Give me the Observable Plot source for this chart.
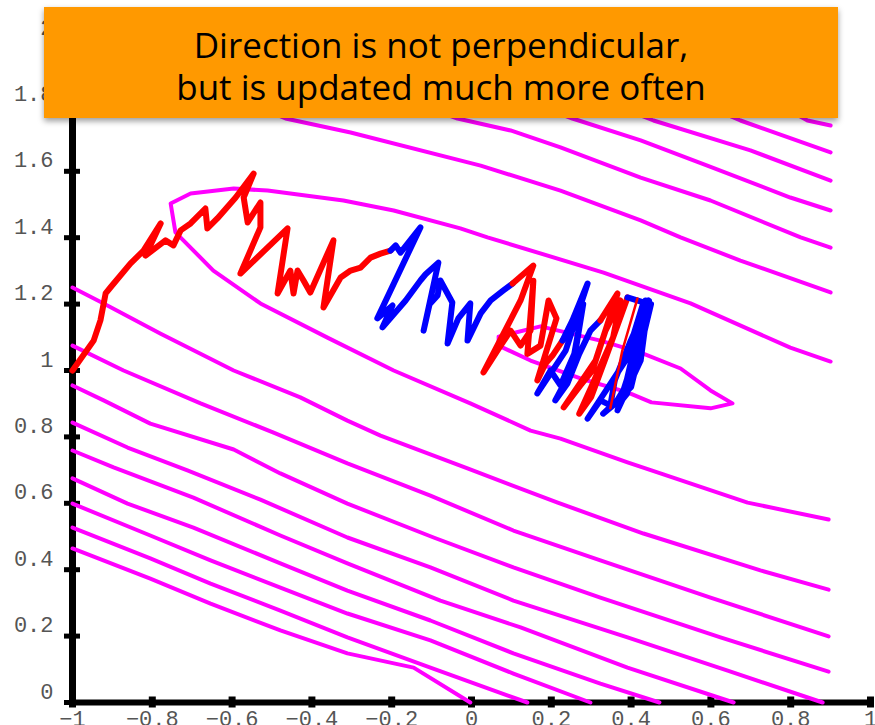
<!DOCTYPE html>
<html><head><meta charset="utf-8">
<script src="https://cdn.jsdelivr.net/npm/d3@7"></script>
<script src="https://cdn.jsdelivr.net/npm/@observablehq/plot@0.6"></script>
<style>
body{margin:0;background:#fff;}
#wrap{position:relative;width:875px;height:725px;overflow:hidden;background:#fff;}
#banner{position:absolute;left:44px;top:7px;width:794px;height:111px;background:#FF9900;box-shadow:0 3px 6px rgba(0,0,0,0.4);font-family:"Open Sans",sans-serif;font-size:35px;color:#000;text-align:center;line-height:42px;box-sizing:border-box;padding-top:17px;white-space:nowrap;}
</style></head>
<body>
<div id="wrap"></div>
<script>
// tick values
const xTicks = [-1, -0.8, -0.6, -0.4, -0.2, 0, 0.2, 0.4, 0.6, 0.8, 1];
const yTicks = [0, 0.2, 0.4, 0.6, 0.8, 1, 1.2, 1.4, 1.6, 1.8, 2];
const titleLines = ["Direction is not perpendicular,", "but is updated much more often"];

// contour lines (magenta), [x, y]
const contourU1 = [[-0.805,1.934],[-0.466,1.759],[-0.303,1.717],[0.023,1.617],[0.223,1.542],[0.424,1.452],[0.524,1.401],[0.674,1.331],[0.9,1.235]];
const contourU2 = [[-0.429,1.934],[-0.035,1.759],[0.098,1.723],[0.223,1.672],[0.424,1.581],[0.599,1.512],[0.825,1.401],[0.9,1.37]];
const contourU3 = [[-0.128,1.934],[0.253,1.759],[0.424,1.693],[0.591,1.617],[0.799,1.521],[0.9,1.482]];
const contourU4 = [[0.073,1.934],[0.456,1.753],[0.699,1.663],[0.9,1.572]];
const contourU5 = [[0.323,1.934],[0.674,1.753],[0.9,1.657]];
const contourU6 = [[0.574,1.934],[0.842,1.753],[0.9,1.738]];
const contourOuter = [[0.9,1.027],[0.799,1.069],[0.549,1.202],[0.331,1.295],[0.04,1.401],[-0.028,1.428],[-0.195,1.482],[-0.321,1.512],[-0.511,1.542],[-0.596,1.548],[-0.704,1.533],[-0.754,1.503],[-0.742,1.416],[-0.647,1.301],[-0.529,1.202],[-0.361,1.099],[-0.195,1.0],[-0.003,0.901],[0.148,0.819],[0.223,0.795],[0.391,0.723],[0.451,0.699],[0.692,0.602],[0.895,0.551]];
const contourInner = [[0.068,1.102],[0.173,1.133],[0.323,1.09],[0.424,1.054],[0.524,1.006],[0.599,0.94],[0.654,0.901],[0.599,0.886],[0.451,0.904],[0.391,0.934],[0.273,0.976],[0.148,1.03],[0.068,1.075],[0.068,1.102]];
const contourA = [[-1.0,1.25],[-0.922,1.202],[-0.779,1.111],[-0.596,1.0],[-0.429,0.919],[-0.311,0.849],[-0.228,0.804],[-0.01,0.705],[0.216,0.602],[0.431,0.509],[0.724,0.398],[0.895,0.34]];
const contourB = [[-1.0,1.075],[-0.872,1.0],[-0.679,0.901],[-0.496,0.813],[-0.311,0.72],[-0.103,0.623],[0.105,0.518],[0.323,0.428],[0.599,0.316],[0.895,0.199]];
const contourC = [[-1.0,0.955],[-0.922,0.91],[-0.805,0.84],[-0.596,0.762],[-0.479,0.69],[-0.311,0.599],[-0.095,0.497],[0.105,0.407],[0.323,0.316],[0.624,0.196],[0.895,0.093]];
const contourD = [[-1.0,0.843],[-0.862,0.768],[-0.712,0.699],[-0.529,0.611],[-0.311,0.497],[-0.103,0.407],[0.105,0.307],[0.391,0.196],[0.642,0.096],[0.88,0]];
const contourE = [[-1.0,0.759],[-0.897,0.708],[-0.697,0.617],[-0.479,0.503],[-0.311,0.419],[-0.078,0.307],[0.123,0.226],[0.391,0.105],[0.657,0]];
const contourF = [[-1.0,0.675],[-0.862,0.599],[-0.697,0.527],[-0.479,0.419],[-0.311,0.337],[-0.103,0.247],[0.105,0.148],[0.323,0.057],[0.471,0]];
const contourG = [[-1.0,0.599],[-0.805,0.503],[-0.654,0.428],[-0.479,0.346],[-0.311,0.268],[-0.103,0.187],[0.105,0.087],[0.298,0]];
const contourH = [[-1.0,0.527],[-0.805,0.434],[-0.654,0.358],[-0.479,0.277],[-0.311,0.196],[-0.103,0.105],[0.14,0]];
const contourI = [[-1.0,0.464],[-0.805,0.373],[-0.654,0.298],[-0.479,0.217],[-0.311,0.148],[-0.145,0.105],[-0.003,0]];

// optimisation trajectories
const red1 = [[-1.0,1.0],[-0.947,1.09],[-0.93,1.151],[-0.917,1.232],[-0.905,1.25],[-0.855,1.322],[-0.822,1.361],[-0.779,1.443],[-0.817,1.346],[-0.767,1.392],[-0.747,1.377],[-0.729,1.422],[-0.704,1.443],[-0.667,1.488],[-0.662,1.428],[-0.637,1.458],[-0.591,1.521],[-0.546,1.593],[-0.571,1.521],[-0.561,1.446],[-0.529,1.506],[-0.529,1.431],[-0.579,1.292],[-0.461,1.428],[-0.486,1.232],[-0.454,1.301],[-0.446,1.232],[-0.436,1.301],[-0.421,1.271],[-0.404,1.235],[-0.346,1.392],[-0.371,1.19],[-0.328,1.28],[-0.303,1.301],[-0.278,1.31],[-0.253,1.34],[-0.228,1.352],[-0.203,1.361]];
const blue1 = [[-0.203,1.361],[-0.19,1.377],[-0.178,1.355],[-0.128,1.431],[-0.236,1.157],[-0.198,1.196],[-0.223,1.13],[-0.165,1.211],[-0.128,1.271],[-0.115,1.29],[-0.083,1.325],[-0.12,1.12],[-0.105,1.2],[-0.085,1.226],[-0.078,1.271],[-0.048,1.205],[-0.06,1.081],[-0.033,1.157],[-0.003,1.202],[-0.01,1.09],[0.023,1.172],[0.048,1.211],[0.08,1.241],[0.103,1.262]];
const red2 = [[0.103,1.262],[0.155,1.316],[0.123,1.211],[0.03,0.994],[0.073,1.075],[0.098,1.12],[0.123,1.075],[0.148,1.12],[0.155,1.27],[0.14,1.05],[0.173,1.075],[0.193,1.211],[0.213,1.157],[0.165,0.97],[0.185,1.02],[0.203,1.045],[0.228,1.09]];
const blue2 = [[0.228,1.09],[0.253,1.151],[0.291,1.262],[0.236,1.06],[0.165,0.931],[0.198,1.0],[0.223,0.955],[0.261,1.06],[0.28,1.2],[0.25,1.0],[0.21,0.91],[0.24,0.96],[0.27,1.05],[0.298,1.12],[0.323,1.151]];
const red3 = [[0.323,1.151],[0.366,1.232],[0.311,1.03],[0.231,0.889],[0.273,0.955],[0.303,1.0],[0.336,1.12],[0.373,1.211],[0.355,1.1],[0.3,0.95],[0.27,0.87],[0.3,0.92],[0.34,1.05],[0.391,1.22]];
const blue3 = [[0.391,1.22],[0.431,1.205],[0.386,1.03],[0.291,0.855],[0.323,0.91],[0.348,0.895],[0.359,0.97],[0.399,1.09],[0.444,1.211],[0.424,1.03],[0.366,0.88],[0.386,0.955],[0.424,1.151],[0.436,1.211],[0.41,1.05],[0.37,0.9],[0.39,0.93],[0.42,1.1],[0.445,1.21],[0.43,1.1],[0.4,0.95],[0.33,0.87],[0.36,0.9],[0.41,1.0],[0.45,1.2]];
const red4 = [[0.416,1.217],[0.378,1.06],[0.348,0.886]];

const toRows = (id, pts) => pts.map(([x, y]) => ({id, x, y}));
const contours = [
  ["U1", contourU1], ["U2", contourU2], ["U3", contourU3], ["U4", contourU4], ["U5", contourU5], ["U6", contourU6],
  ["outer", contourOuter], ["inner", contourInner],
  ["A", contourA], ["B", contourB], ["C", contourC], ["D", contourD], ["E", contourE],
  ["F", contourF], ["G", contourG], ["H", contourH], ["I", contourI]
].flatMap(([id, pts]) => toRows(id, pts));
const paths = [
  ["red1", red1, "#ff0000"], ["blue1", blue1, "#0000ff"], ["red2", red2, "#ff0000"],
  ["blue2", blue2, "#0000ff"], ["red3", red3, "#ff0000"], ["blue3", blue3, "#0000ff"]
];
const fmt = d3.format("~g");

const chart = Plot.plot({
  width: 875,
  height: 725,
  marginLeft: 72,
  marginRight: 5,
  marginTop: 38,
  marginBottom: 23,
  x: {domain: [-1, 1]},
  y: {domain: [0, 2]},
  style: {fontFamily: "Liberation Mono", fontSize: "22px", background: "white", overflow: "visible"},
  marks: [
    Plot.ruleX([-1], {stroke: "black", strokeWidth: 7}),
    Plot.ruleY([0], {stroke: "black", strokeWidth: 6}),
    Plot.axisX({ticks: xTicks, tickSize: 11, dy: -5.5, strokeWidth: 7, stroke: "black", tickFormat: () => "", label: null}),
    Plot.axisX({ticks: xTicks, tickSize: 0, tickPadding: 8, fill: "#555", tickFormat: fmt, label: null}),
    Plot.axisY({ticks: yTicks, tickSize: 16, dx: 8, strokeWidth: 5, stroke: "black", tickFormat: () => "", label: null}),
    Plot.axisY({ticks: yTicks, tickSize: 0, tickPadding: 19, dy: -11, fill: "#555", tickFormat: fmt, label: null}),
    Plot.line(contours, {x: "x", y: "y", z: "id", stroke: "#ff00ff", strokeWidth: 4, strokeLinejoin: "round", strokeLinecap: "round"}),
    ...paths.map(([id, pts, color]) => Plot.line(toRows(id, pts), {x: "x", y: "y", stroke: color, strokeWidth: 6, strokeLinejoin: "round", strokeLinecap: "round"})),
    Plot.line(toRows("red4", red4), {x: "x", y: "y", stroke: "#ff0000", strokeWidth: 2.5, strokeLinejoin: "round"})
  ]
});

const wrap = document.getElementById("wrap");
wrap.appendChild(chart);
const banner = document.createElement("div");
banner.id = "banner";
banner.innerHTML = titleLines.map(t => `<div>${t}</div>`).join("");
wrap.appendChild(banner);
</script>
</body></html>
